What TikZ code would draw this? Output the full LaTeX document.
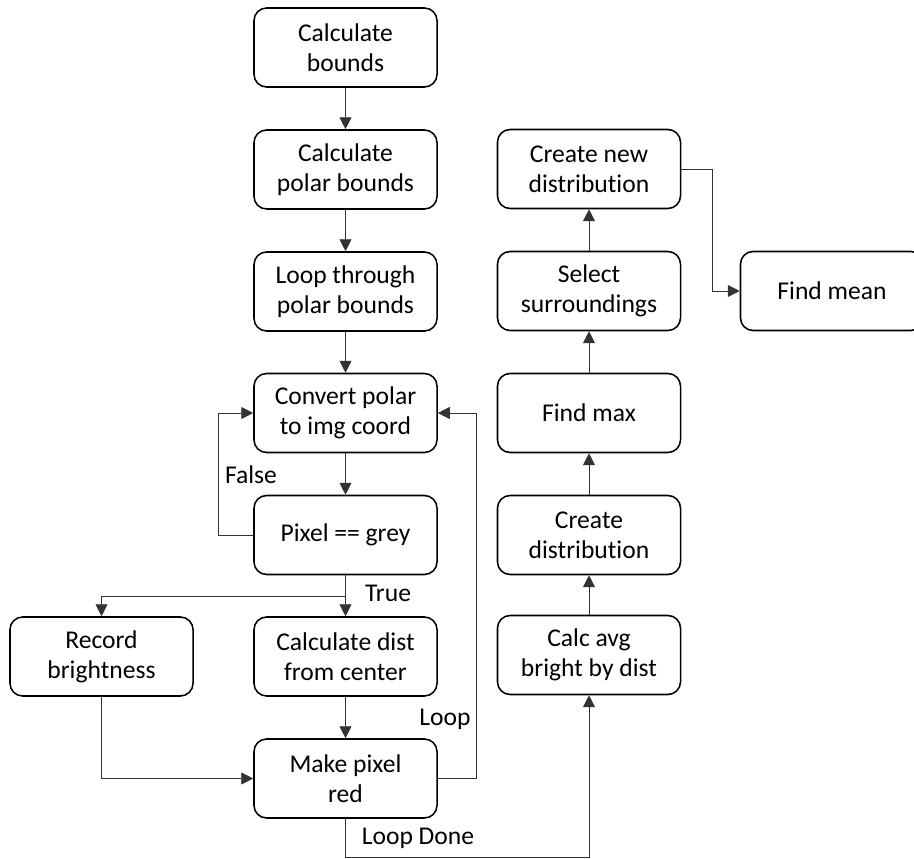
\documentclass[tikz,border=0pt]{standalone}
\usepackage{fontspec}
\setmainfont{Carlito}[Ligatures={NoCommon}]
\usetikzlibrary{arrows.meta}

\tikzset{
  stepbox/.style={draw, line width=1.1pt, rounded corners=9pt, minimum width=4.575cm,
    minimum height=1.975cm, align=center, font=\fontsize{18.2}{21.4}\selectfont},
  flow/.style={-{Triangle[length=8.5pt,width=8.5pt]}, draw=black!80, line width=0.65pt},
  lbl/.style={font=\fontsize{18.2}{21.4}\selectfont}
}

\begin{document}
\begin{tikzpicture}[x=0.025cm, y=-0.025cm]
    \useasboundingbox (0,0) rectangle (914,859);
    % left column
    \node[stepbox] (bounds) at (345.5,47.5) {Calculate\\bounds};
    \node[stepbox] (polar) at (345.5,169.5) {Calculate\\polar bounds};
    \node[stepbox] (loop) at (345.5,291.5) {Loop through\\polar bounds};
    \node[stepbox] (convert) at (345.5,413) {Convert polar\\to img coord};
    \node[stepbox] (grey) at (345.5,535) {Pixel == grey};
    \node[stepbox] (dist) at (345.5,656.5) {Calculate dist\\from center};
    \node[stepbox] (red) at (345.5,778.5) {Make pixel\\red};
    \node[stepbox] (record) at (101.5,656.5) {Record\\brightness};
    % right column
    \node[stepbox] (avg) at (589,655) {Calc avg\\bright by dist};
    \node[stepbox] (distr) at (589,535) {Create\\distribution};
    \node[stepbox] (max) at (589,413) {Find max};
    \node[stepbox] (surr) at (589,291) {Select\\surroundings};
    \node[stepbox] (newdist) at (589,169) {Create new\\distribution};
    \node[stepbox] (mean) at (832,291) {Find mean};
    % helper points
    \coordinate (fback) at (218,0);
    \coordinate (tsplit) at (345.5,596);
    \coordinate (lback) at (476,0);
    \coordinate (ldone) at (0,857);
    \coordinate (mbend) at (712,0);
    % connectors
    \draw[flow] (bounds) -- (polar);
    \draw[flow] (polar) -- (loop);
    \draw[flow] (loop) -- (convert);
    \draw[flow] (convert) -- (grey);
    \draw[flow] (grey.west) -- (grey.west -| fback) |- (convert.west);
    \draw[flow] (grey) -- (dist);
    \draw[flow] (tsplit) -| (record.north);
    \draw[flow] (dist) -- (red);
    \draw[flow] (record.south) |- (red.west);
    \draw[flow] (red.east) -- (red.east -| lback) |- (convert.east);
    \draw[flow] (red.south) -- (red.south |- ldone) -| (avg.south);
    \draw[flow] (avg) -- (distr);
    \draw[flow] (distr) -- (max);
    \draw[flow] (max) -- (surr);
    \draw[flow] (surr) -- (newdist);
    \draw[flow] (newdist.east) -- (newdist.east -| mbend) |- (mean.west);
    % labels
    \node[lbl] (lfalse) at (251,475) {False};
    \node[lbl] (ltrue) at (388,593) {True};
    \node[lbl] (lloop) at (445,719) {Loop};
    \node[lbl] (ldonetxt) at (418,838) {Loop Done};
\end{tikzpicture}
\end{document}
